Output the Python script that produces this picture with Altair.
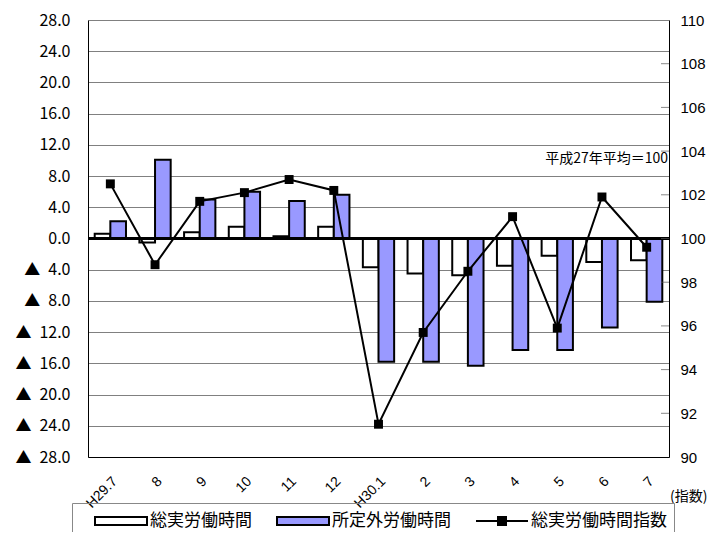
import altair as alt
import pandas as pd

# ---- data ----
months = ["H29.7", "8", "9", "10", "11", "12", "H30.1", "2", "3", "4", "5", "6", "7"]
total_hours = [0.6, -0.5, 0.8, 1.5, 0.3, 1.5, -3.7, -4.5, -4.7, -3.5, -2.2, -3.0, -2.8]
overtime_hours = [2.2, 10.1, 5.0, 6.0, 4.8, 5.6, -15.8, -15.8, -16.3, -14.3, -14.3, -11.4, -8.1]
hours_index = [102.5, 98.8, 101.7, 102.1, 102.7, 102.2, 91.5, 95.7, 98.5, 101.0, 95.9, 101.9, 99.6]
series_names = ["総実労働時間", "所定外労働時間", "総実労働時間指数"]
left_ticks = list(range(-28, 29, 4))
right_ticks = list(range(90, 111, 2))
inner_ticks = list(range(92, 109, 2))
note_text = ["平成27年平均＝100"]
unit_text = ["(指数)"]

FONT = "Noto Sans CJK JP"
NUM_FONT = "Liberation Sans"
W, H = 581, 437

bars_df = pd.DataFrame(
    [{"month": m, "series": series_names[0], "value": v} for m, v in zip(months, total_hours)]
    + [{"month": m, "series": series_names[1], "value": v} for m, v in zip(months, overtime_hours)]
)
idx_df = pd.DataFrame({"month": months, "idx": hours_index})
tick_df = pd.DataFrame({"idx": inner_ticks})
legend_df = pd.DataFrame({"series": series_names})

rect_path = "M0.5,-0.4H5.7V0.4H0.5Z"
line_path = "M0.5,0H5.7M2.7,-0.4H3.5V0.4H2.7Z"

color_scale = alt.Scale(domain=series_names, range=["white", "#9999FF", "black"])
shape_scale = alt.Scale(domain=series_names, range=[rect_path, rect_path, line_path])
legend_def = alt.Legend(
    title=None, orient="none", legendX=-16, legendY=483, direction="horizontal",
    columns=3, symbolSize=400, symbolStrokeWidth=2,
    symbolOpacity=1, labelFontSize=17, labelFont=FONT, labelColor="black",
    labelOffset=49, columnPadding=9, padding=7, strokeColor="#888888",
)

x_enc = alt.X(
    "month:N", sort=months,
    scale=alt.Scale(paddingInner=0.3, paddingOuter=0.15),
    axis=alt.Axis(title=None, labelAngle=-45, labelAlign="right", labelBaseline="top",
                  ticks=False, domainColor="black", labelFontSize=14, labelPadding=17,
                  labelOffset=0, labelFont=NUM_FONT, labelColor="black", grid=False),
)

left_scale = alt.Scale(domain=[-28, 28], nice=False, zero=False)
left_axis = alt.Axis(
    title=None, values=left_ticks, grid=True, gridColor="#808080", gridWidth=1,
    domainColor="black", ticks=False, labelPadding=18, labelFontSize=16,
    labelFont=FONT, labelColor="black",
    labelExpr="datum.value < 0 ? '▲\u2002' + format(-datum.value, '.1f') : format(datum.value, '.1f')",
)

bars = alt.Chart(bars_df).mark_bar(stroke="black", strokeWidth=2).encode(
    x=x_enc,
    xOffset=alt.XOffset("series:N", sort=series_names[:2],
                        scale=alt.Scale(domain=series_names[:2], paddingInner=0, paddingOuter=0)),
    y=alt.Y("value:Q", scale=left_scale, axis=left_axis),
    color=alt.Color("series:N", scale=color_scale, legend=legend_def),
)
zero_rule = alt.Chart(pd.DataFrame({"value": [0]})).mark_rule(color="black", strokeWidth=3).encode(
    y=alt.Y("value:Q", scale=left_scale, axis=left_axis)
)
left_group = alt.layer(bars, zero_rule)

right_scale = alt.Scale(domain=[90, 110], nice=False, zero=False)
right_axis = alt.Axis(
    title=None, orient="right", values=right_ticks, grid=False, ticks=False,
    domainColor="black", labelPadding=11, labelFontSize=15,
    labelFont="Liberation Sans Narrow, Liberation Sans", labelColor="black",
)
inner = alt.Chart(tick_df).mark_tick(color="#555555", thickness=1, size=8).encode(
    x=alt.value(W - 4), y=alt.Y("idx:Q", scale=right_scale, axis=right_axis)
)
line = alt.Chart(idx_df).mark_line(color="black", strokeWidth=2).encode(
    x=x_enc, y=alt.Y("idx:Q", scale=right_scale, axis=right_axis)
)
points = alt.Chart(idx_df).mark_point(shape="square", filled=True, size=80, color="black", opacity=1).encode(
    x=x_enc, y=alt.Y("idx:Q", scale=right_scale, axis=right_axis)
)
note = alt.Chart(pd.DataFrame({"t": note_text})).mark_text(
    align="right", baseline="middle", fontSize=14, font=FONT, color="black"
).encode(text="t:N", x=alt.value(W - 1), y=alt.value(139))
unit = alt.Chart(pd.DataFrame({"t": unit_text})).mark_text(
    align="left", baseline="middle", fontSize=14, font=FONT, color="black"
).encode(text="t:N", x=alt.value(W + 1), y=alt.value(477))
carrier = alt.Chart(legend_df).mark_point(
    filled=True, size=0, opacity=1, stroke="black", strokeWidth=2
).encode(
    color=alt.Color("series:N", scale=color_scale, legend=legend_def),
    shape=alt.Shape("series:N", scale=shape_scale, legend=legend_def),
)
right_group = alt.layer(inner, line, points, note, unit, carrier)

chart = (
    alt.layer(left_group, right_group)
    .resolve_scale(y="independent")
    .properties(
        width=W, height=H, background="white",
        autosize=alt.AutoSizeParams(type="none"),
        padding={"left": 80, "top": 12, "right": 40, "bottom": 75},
    )
    .configure_view(stroke=None)
)

chart.save("out.html", embed_options={"renderer": "svg", "actions": False})
